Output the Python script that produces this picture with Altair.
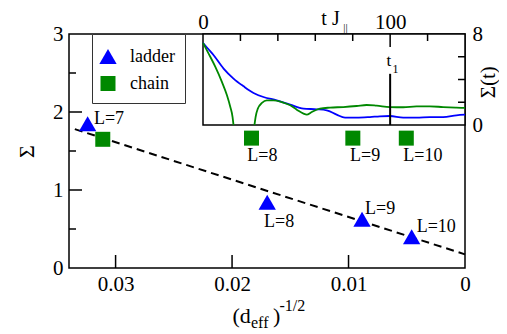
import altair as alt
import pandas as pd

FONT = "Liberation Serif"
BLUE = "#0000ff"
GREEN = "#008800"
W, H = 396, 234

# ---- main panel data ----
series_names = ["ladder", "chain"]
L_labels = ["L=7", "L=8", "L=9", "L=10"]
ladder_x = [0.0324, 0.01698, 0.00884, 0.00458]
ladder_y = [1.85, 0.844, 0.626, 0.40]
chain_x = [0.0311, 0.01833, 0.00963, 0.00504]
chain_y = [1.65, 1.665, 1.665, 1.665]
fit_x = [0.0335, 0.0]
fit_y = [1.78, 0.175]
x_ticks = [0, 0.01, 0.02, 0.03]
y_ticks = [0, 1, 2, 3]
y_minor = [0.5, 1.5, 2.5]

# ---- inset data ----
blue_t = [0, 2.1, 5.7, 11.0, 16.3, 21.7, 27.0, 32.3, 39.4, 46.6, 53.7, 60.8, 66.1,
          71.4, 75.9, 82.1, 89.2, 94.5, 99.9, 107.0, 114.1, 121.2, 128.3, 135.4, 140.0]
blue_s = [7.22, 6.81, 6.13, 4.96, 4.08, 3.40, 2.82, 2.46, 2.17, 1.79, 1.44, 1.38, 1.29,
          0.91, 0.65, 0.65, 0.70, 0.76, 0.79, 0.65, 0.65, 0.70, 0.70, 0.85, 0.91]
green1_t = [0, 3.0, 6.6, 10.1, 12.8, 14.6, 15.8, 16.3]
green1_s = [7.22, 6.28, 5.11, 3.79, 2.61, 1.58, 0.70, 0.0]
green2_t = [27.5, 28.1, 29.3, 31.5, 34.1, 37.7, 42.1, 46.6, 50.1, 53.7, 55.4, 58.1, 62.5,
            67.9, 75.0, 82.1, 87.4, 92.8, 99.9, 107.0, 114.1, 121.2, 128.3, 135.4, 140.0]
green2_s = [0.0, 0.70, 1.44, 1.94, 2.17, 2.17, 2.02, 1.73, 1.35, 1.00, 0.91, 1.14, 1.44,
            1.53, 1.58, 1.67, 1.76, 1.70, 1.58, 1.56, 1.64, 1.64, 1.58, 1.53, 1.50]
t_ticks = [0, 100]
t_minor = [20, 40, 60, 80, 120]
s_ticks = [0, 8]
s_minor = [2, 4, 6]
t_one = 100
t_one_top = 4.5
T_MAX, S_MAX = 140, 8

# ---- scales & axes ----
xs = alt.Scale(domain=[0, 0.034], reverse=True, nice=False, zero=False)
ys = alt.Scale(domain=[0, 3], nice=False)
ts = alt.Scale(domain=[0, T_MAX], range=[134, W], nice=False)
ss = alt.Scale(domain=[0, S_MAX], range=[91, 0], nice=False)

main_x_axis = alt.Axis(orient="bottom", values=x_ticks, ticks=False, domain=False, grid=False,
                       labelExpr="datum.value == 0 ? '0' : format(datum.value, '.2f')",
                       labelPadding=22, labelBaseline="alphabetic", labelFontSize=21,
                       labelFlush=False, title=None)
main_y_axis = alt.Axis(orient="left", values=y_ticks, format="d", ticks=False, domain=False,
                       grid=False, labelPadding=6, labelFontSize=21, labelFlush=False,
                       title="Σ", titleFontSize=22, titleAngle=270, titleX=-43, titleY=117,
                       titleAlign="center", titleBaseline="middle")
inset_x_axis = alt.Axis(orient="top", values=t_ticks, format="d", ticks=False, domain=False,
                        grid=False, labelPadding=6, labelBaseline="alphabetic", labelFontSize=21,
                        labelFlush=False, title="t J", titleFontSize=20, titleX=261, titleY=-10,
                        titleAlign="center", titleBaseline="alphabetic")
inset_y_axis = alt.Axis(orient="right", values=s_ticks, format="d", ticks=False, domain=False,
                        grid=False, labelPadding=7, labelFontSize=21, labelFlush=False,
                        title="Σ(t)", titleFontSize=21, titleAngle=270, titleX=23, titleY=47.7,
                        titleAlign="center", titleBaseline="middle")

X = alt.X("x:Q", scale=xs, axis=main_x_axis)
Y = alt.Y("y:Q", scale=ys, axis=main_y_axis)
TX = alt.X("t:Q", scale=ts, axis=inset_x_axis)
TY = alt.Y("s:Q", scale=ss, axis=inset_y_axis)

# ---- main layers ----
pts = pd.DataFrame({
    "x": ladder_x + chain_x,
    "y": ladder_y + chain_y,
    "series": ["ladder"] * len(ladder_x) + ["chain"] * len(chain_x),
    "L": L_labels + L_labels,
})
leg = alt.Legend(title=" ", titleFontSize=2, titlePadding=1.5, orient="none", legendX=23, legendY=0,
                 fillColor="white", strokeColor="#333333", padding=10, labelFont=FONT,
                 labelFontSize=18, labelColor="black", symbolOpacity=1, symbolStrokeWidth=0,
                 labelOffset=13, rowPadding=9, symbolOffset=-3)
points = alt.Chart(pts).mark_point(filled=True, opacity=1, strokeWidth=0).encode(
    x=X, y=Y,
    color=alt.Color("series:N", scale=alt.Scale(domain=series_names, range=[BLUE, GREEN]), legend=leg),
    shape=alt.Shape("series:N", scale=alt.Scale(domain=series_names, range=["triangle-up", "square"]), legend=leg),
    size=alt.Size("series:N", scale=alt.Scale(domain=series_names, range=[300, 225]), legend=leg),
)

fit = alt.Chart(pd.DataFrame({"x": fit_x, "y": fit_y})).mark_line(
    color="black", strokeWidth=2, strokeDash=[8, 5]).encode(x=X, y=Y)

label_offsets = {
    ("ladder", "L=7"): (6.3, 0.2), ("ladder", "L=8"): (-3.2, 24.5),
    ("ladder", "L=9"): (3, -4.9), ("ladder", "L=10"): (5, -5.1),
    ("chain", "L=8"): (-4.2, 22.5), ("chain", "L=9"): (-2.8, 22.5),
    ("chain", "L=10"): (-3, 22.5),
}
label_layers = []
for (ser, lab), (dx, dy) in label_offsets.items():
    sub = pts[(pts.series == ser) & (pts.L == lab)]
    label_layers.append(
        alt.Chart(sub).mark_text(align="left", baseline="alphabetic", dx=dx, dy=dy,
                                 font=FONT, fontSize=18, color="black").encode(x=X, y=Y, text="L:N"))

xt = alt.Chart(pd.DataFrame({"x": x_ticks[1:]})).mark_rule(color="black", strokeWidth=1.5).encode(
    x=X, y=alt.value(H), y2=alt.value(H - 13))
yt = alt.Chart(pd.DataFrame({"y": y_ticks[1:-1]})).mark_rule(color="black", strokeWidth=1.5).encode(
    y=Y, x=alt.value(0), x2=alt.value(13))
ytm = alt.Chart(pd.DataFrame({"y": y_minor})).mark_rule(color="black", strokeWidth=1.5).encode(
    y=Y, x=alt.value(0), x2=alt.value(7))

one = pd.DataFrame({"k": [0]})
def ptext(txt, x, y, size, align="left"):
    return alt.Chart(one).mark_text(text=txt, align=align, baseline="alphabetic", font=FONT,
                                    fontSize=size, color="black").encode(x=alt.value(x), y=alt.value(y))

xtitle = [ptext("(d", 163.5, 289, 22), ptext("eff", 182, 294, 16),
          ptext(")", 204, 289, 22), ptext("-1/2", 210.5, 277, 16)]

main = alt.layer(fit, points, xt, yt, ytm, *label_layers, *xtitle)

# ---- inset layers ----
frame = alt.Chart(pd.DataFrame({"t": [0], "t2": [T_MAX], "s": [0], "s2": [S_MAX]})).mark_rect(
    fill="white", stroke="black", strokeWidth=1.5).encode(x=TX, x2="t2", y=TY, y2="s2")
blue = alt.Chart(pd.DataFrame({"t": blue_t, "s": blue_s})).mark_line(
    color=BLUE, strokeWidth=1.8, interpolate="monotone").encode(x=TX, y=TY)
gdf = pd.DataFrame({"t": green1_t + green2_t, "s": green1_s + green2_s,
                    "seg": ["a"] * len(green1_t) + ["b"] * len(green2_t)})
green = alt.Chart(gdf).mark_line(color=GREEN, strokeWidth=1.8, interpolate="monotone").encode(
    x=TX, y=TY, detail="seg:N")
t1line = alt.Chart(pd.DataFrame({"t": [t_one], "s": [0], "s2": [t_one_top]})).mark_rule(
    color="black", strokeWidth=2).encode(x=TX, y=TY, y2="s2")
ttm = alt.Chart(pd.DataFrame({"t": t_minor})).mark_rule(color="black", strokeWidth=1.5).encode(
    x=TX, y=alt.value(0), y2=alt.value(7))
ttM = alt.Chart(pd.DataFrame({"t": t_ticks[1:]})).mark_rule(color="black", strokeWidth=1.5).encode(
    x=TX, y=alt.value(0), y2=alt.value(13))
stm = alt.Chart(pd.DataFrame({"s": s_minor})).mark_rule(color="black", strokeWidth=1.5).encode(
    y=TY, x=alt.value(W), x2=alt.value(W - 7))
t1lab = alt.Chart(pd.DataFrame({"t": [t_one], "s": [5.2]})).mark_text(
    text="t", align="right", baseline="alphabetic", dx=1, font=FONT, fontSize=17, color="black").encode(x=TX, y=TY)
t1sub = alt.Chart(pd.DataFrame({"t": [t_one], "s": [4.55]})).mark_text(
    text="1", align="left", baseline="alphabetic", dx=2.4, font=FONT, fontSize=12, color="black").encode(x=TX, y=TY)
par = alt.Chart(one).mark_text(text="||", align="center", baseline="alphabetic", font=FONT,
                               fontSize=11, color="black").encode(x=alt.value(276.5), y=alt.value(-3))

inset = alt.layer(frame, blue, green, t1line, ttm, ttM, stm, t1lab, t1sub, par)

chart = alt.layer(main, inset).resolve_scale(x="independent", y="independent").properties(
    width=W, height=H,
    padding={"left": 61, "top": 26, "right": 34, "bottom": 66},
    autosize=alt.AutoSizeParams(type="none"),
).configure_view(stroke="black", strokeWidth=1.5).configure_axis(
    labelFont=FONT, titleFont=FONT, labelColor="black", titleColor="black", titleFontWeight="normal"
).configure_text(font=FONT).configure_legend(labelFont=FONT)

chart.save("out.html", embed_options={"renderer": "svg", "actions": False})
